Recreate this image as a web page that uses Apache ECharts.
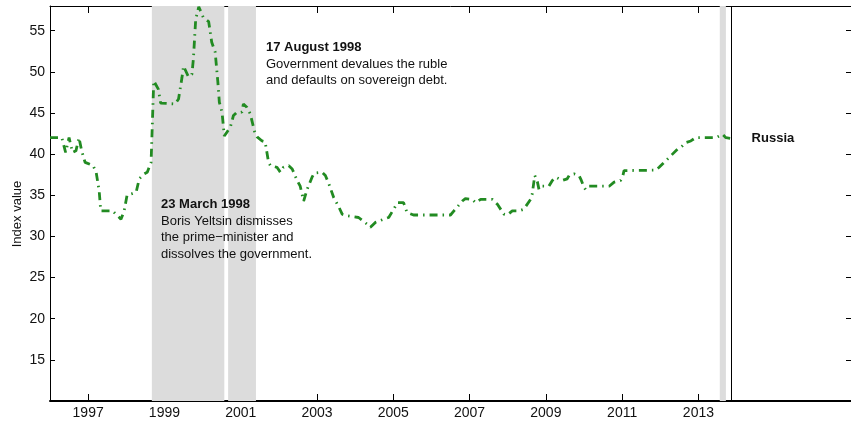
<!DOCTYPE html>
<html>
<head>
<meta charset="utf-8">
<script src="https://cdn.jsdelivr.net/npm/echarts@6/dist/echarts.min.js"></script>
<style>
  html, body { margin: 0; padding: 0; background: #fff; }
  #chart { width: 851px; height: 421px; }
</style>
</head>
<body>
<div id="chart"></div>
<script>
// Russia index, decimal years and index values
const years = [
  1996.00, 1996.31, 1996.41, 1996.50, 1996.59, 1996.68, 1996.76, 1996.83, 1996.92, 1997.13,
  1997.21, 1997.29, 1997.33, 1997.64, 1997.77, 1997.86, 1997.94, 1998.02, 1998.15, 1998.26,
  1998.34, 1998.47, 1998.55, 1998.65, 1998.72, 1998.76, 1998.84, 1998.90, 1999.28, 1999.37,
  1999.46, 1999.50, 1999.56, 1999.63, 1999.72, 1999.76, 1999.82, 1999.90, 1999.94, 2000.02,
  2000.16, 2000.24, 2000.33, 2000.40, 2000.44, 2000.51, 2000.57, 2000.73, 2000.81, 2000.90,
  2001.03, 2001.07, 2001.16, 2001.25, 2001.36, 2001.43, 2001.56, 2001.64, 2001.73, 2001.78,
  2001.95, 2002.04, 2002.12, 2002.26, 2002.35, 2002.48, 2002.56, 2002.65, 2002.74, 2002.87,
  2002.93, 2003.13, 2003.22, 2003.31, 2003.44, 2003.57, 2003.66, 2003.79, 2004.09, 2004.31,
  2004.40, 2004.53, 2004.75, 2004.88, 2005.01, 2005.11, 2005.27, 2005.36, 2005.53, 2006.50,
  2006.59, 2006.81, 2006.89, 2007.07, 2007.16, 2007.29, 2007.60, 2007.73, 2007.90, 2007.99,
  2008.12, 2008.29, 2008.42, 2008.60, 2008.64, 2008.71, 2008.78, 2008.82, 2008.91, 2009.08,
  2009.17, 2009.26, 2009.43, 2009.56, 2009.61, 2009.74, 2009.87, 2009.93, 2010.00, 2010.04,
  2010.13, 2010.66, 2010.79, 2010.96, 2011.01, 2011.05, 2011.88, 2011.97, 2012.10, 2012.19,
  2012.32, 2012.45, 2012.58, 2012.67, 2012.80, 2012.93, 2013.46, 2013.63, 2013.72, 2013.87
];
const indexValues = [
  42.0, 42.0, 40.2, 42.0, 40.2, 40.4, 42.0, 40.4, 39.0, 38.6,
  37.8, 35.5, 33.1, 33.1, 32.5, 32.1, 33.0, 35.0, 35.2, 35.4,
  37.0, 37.6, 37.8, 39.0, 48.9, 49.0, 47.9, 46.2, 46.1, 46.7,
  49.3, 50.7, 50.1, 49.4, 49.7, 51.6, 56.4, 57.9, 58.0, 56.6,
  56.1, 53.6, 52.4, 48.8, 46.3, 45.1, 42.2, 43.3, 44.7, 45.1,
  45.1, 46.1, 45.7, 44.9, 42.8, 42.1, 41.6, 41.5, 39.0, 38.6,
  38.4, 37.8, 38.4, 38.6, 38.2, 36.8, 36.1, 34.3, 35.7, 37.2,
  37.7, 37.8, 37.4, 36.4, 34.7, 33.6, 32.7, 32.5, 32.3, 31.5,
  31.1, 31.7, 32.1, 32.3, 33.3, 34.1, 34.1, 32.9, 32.6, 32.6,
  33.1, 34.3, 34.6, 34.5, 34.1, 34.5, 34.5, 33.9, 32.7, 32.6,
  33.1, 33.1, 33.3, 34.5, 35.1, 37.4, 36.6, 35.7, 36.1, 36.1,
  36.8, 37.2, 36.8, 37.0, 37.4, 37.6, 37.4, 36.8, 36.0, 35.7,
  36.1, 36.1, 36.6, 36.8, 37.2, 38.0, 38.05, 38.4, 39.0, 39.4,
  40.0, 40.6, 41.0, 41.4, 41.6, 42.0, 42.0, 42.4, 42.0, 41.9
];
const seriesName = 'Russia';

// Axis ticks
const xTickYears = [1997, 1999, 2001, 2003, 2005, 2007, 2009, 2011, 2013];
const yTickValues = [15, 20, 25, 30, 35, 40, 45, 50, 55];

// Shaded periods and the vertical marker
const shadedPeriods = [[1998.67, 2000.57], [2000.67, 2001.40], [2013.56, 2013.72]];
const markerYear = 2013.87;

// Event notes
const augustNote = ['17 August 1998', 'Government devalues the ruble', 'and defaults on sovereign debt.'];
const marchNote = ['23 March 1998', 'Boris Yeltsin dismisses', 'the prime\u2212minister and', 'dissolves the government.'];

const FONT = '"Liberation Sans", Arial, Helvetica, sans-serif';

function noteGraphics(lines, left, top) {
  return lines.map((t, i) => ({
    type: 'text',
    left: left,
    top: top + i * 16.5,
    z: 100,
    style: {
      text: t,
      fill: '#111',
      font: (i === 0 ? 'bold ' : '') + '13px ' + FONT
    }
  }));
}

const chart = echarts.init(document.getElementById('chart'), null, { renderer: 'canvas' });

const option = {
  animation: false,
  backgroundColor: '#fff',
  grid: { left: 50, right: 0, top: 6, bottom: 20, containLabel: false },
  xAxis: [
    {
      type: 'value', min: 1996, max: 2017, position: 'bottom',
      axisLine: { show: true, onZero: false, lineStyle: { color: '#000', width: 2 } },
      axisTick: { show: true, inside: true, length: 7, customValues: xTickYears, lineStyle: { color: '#000' } },
      axisLabel: {
        show: true, customValues: xTickYears, color: '#111', fontSize: 14, fontFamily: FONT, margin: 5,
        formatter: v => String(Math.round(v))
      },
      splitLine: { show: false }
    },
    {
      type: 'value', min: 1996, max: 2017, position: 'top',
      axisLine: { show: true, onZero: false, lineStyle: { color: '#000', width: 1 } },
      axisTick: { show: true, inside: true, length: 7, customValues: xTickYears, lineStyle: { color: '#000' } },
      axisLabel: { show: false },
      splitLine: { show: false }
    }
  ],
  yAxis: [
    {
      type: 'value', min: 10, max: 58, position: 'left',
      axisLine: { show: true, onZero: false, lineStyle: { color: '#000', width: 1 } },
      axisTick: { show: true, inside: true, length: 5, customValues: yTickValues, lineStyle: { color: '#000' } },
      axisLabel: { show: true, customValues: yTickValues, color: '#111', fontSize: 14, fontFamily: FONT, margin: 5 },
      splitLine: { show: false }
    },
    {
      type: 'value', min: 10, max: 58, position: 'right',
      axisLine: { show: true, onZero: false, lineStyle: { color: '#000', width: 1 } },
      axisTick: { show: true, inside: true, length: 5, customValues: yTickValues, lineStyle: { color: '#000' } },
      axisLabel: { show: false },
      splitLine: { show: false }
    }
  ],
  series: [
    {
      name: 'periods',
      type: 'line',
      data: [],
      z: 1,
      silent: true,
      markArea: {
        silent: true,
        itemStyle: { color: '#dcdcdc' },
        data: shadedPeriods.map(p => [{ xAxis: p[0] }, { xAxis: p[1] }])
      },
      markLine: {
        silent: true,
        symbol: ['none', 'none'],
        label: { show: false },
        lineStyle: { color: '#000', width: 1, type: 'solid' },
        data: [{ xAxis: markerYear }]
      }
    },
    {
      name: seriesName,
      type: 'line',
      z: 3,
      data: years.map((y, i) => [y, indexValues[i]]),
      showSymbol: false,
      clip: true,
      lineStyle: { color: '#228B22', width: 2.8, type: [8, 5, 1.5, 5], cap: 'butt' },
      endLabel: {
        show: true,
        formatter: seriesName,
        distance: 20,
        color: '#111',
        fontWeight: 'bold',
        fontSize: 13,
        fontFamily: FONT
      }
    }
  ],
  graphic: [
    {
      type: 'text',
      x: 17, y: 214,
      z: 100,
      rotation: Math.PI / 2,
      style: { text: 'Index value', fill: '#111', font: '13px ' + FONT, align: 'center', verticalAlign: 'middle' }
    },
    ...noteGraphics(augustNote, 266, 41),
    ...noteGraphics(marchNote, 161, 198)
  ]
};

chart.setOption(option);
</script>
</body>
</html>
